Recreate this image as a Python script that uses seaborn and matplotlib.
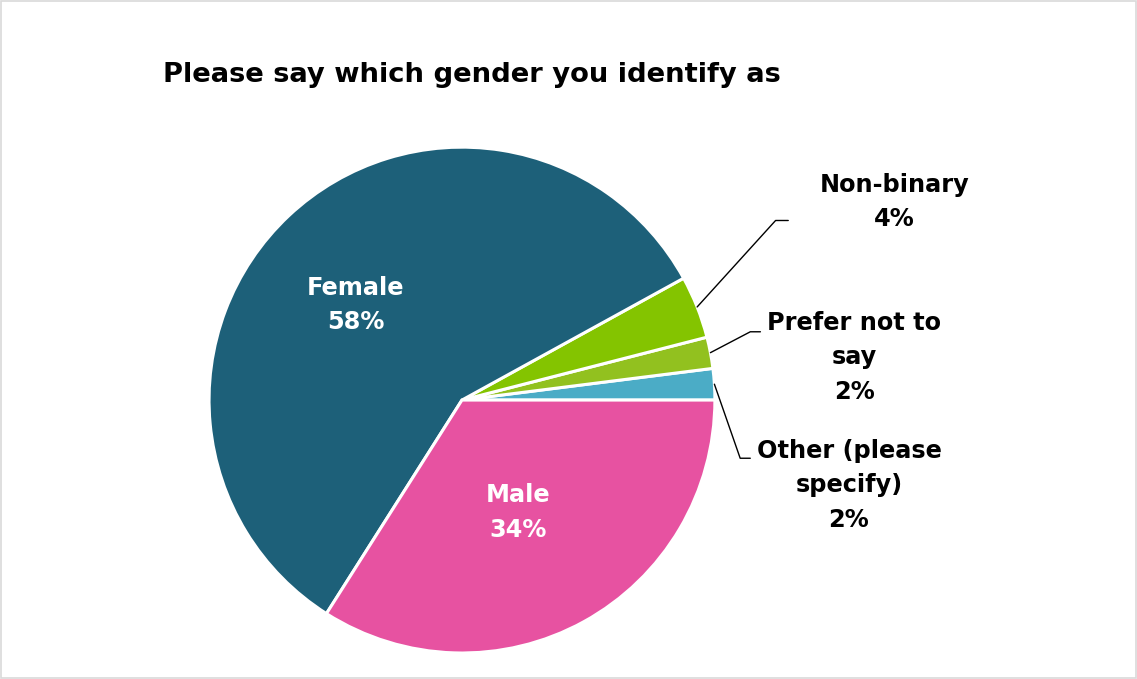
import numpy as np
import matplotlib
matplotlib.use("Agg")
import matplotlib.pyplot as plt
import seaborn as sns

# Survey responses (share of respondents, %), drawn counter-clockwise from 3 o'clock
categories = ["Other (please\nspecify)", "Prefer not to\nsay", "Non-binary", "Female", "Male"]
shares = [2, 2, 4, 58, 34]
colors = ["#4bacc6", "#92c11f", "#84c400", "#1d6079", "#e752a1"]
title = "Please say which gender you identify as"

sns.set_theme(style="white")
plt.rcParams["font.family"] = ["DejaVu Sans"]

fig = plt.figure(figsize=(11.37, 6.79), dpi=100)
fig.patch.set_facecolor("white")

ax = fig.add_axes([0.1838, 0.0383, 0.445, 0.745])
wedges, _ = ax.pie(
    shares,
    colors=colors,
    startangle=0,
    counterclock=True,
    radius=1.0,
    wedgeprops=dict(edgecolor="white", linewidth=2.2),
)
ax.set_xlim(-1, 1)
ax.set_ylim(-1, 1)
ax.set_aspect("equal")
ax.axis("off")

LABEL_SIZE = 17.3
LINE_SPACING = 1.55

def pct(v):
    return f"{v}%"

# Inside labels for the two large slices
inside = {3: (-0.42, 0.375), 4: (0.22, -0.445)}
for i, (x, y) in inside.items():
    ax.text(x, y, f"{categories[i]}\n{pct(shares[i])}", ha="center", va="center",
            color="white", fontsize=LABEL_SIZE, fontweight="bold",
            linespacing=LINE_SPACING)

# Outside labels with elbow leader lines for the small slices
outside = {
    2: dict(text=(1.71, 0.783), elbow=(1.24, 0.71), end=(1.29, 0.71)),
    1: dict(text=(1.55, 0.170), elbow=(1.14, 0.27), end=(1.18, 0.27)),
    0: dict(text=(1.53, -0.336), elbow=(1.10, -0.23), end=(1.14, -0.23)),
}
cum = np.cumsum([0] + shares)
for i, spec in outside.items():
    mid = np.deg2rad((cum[i] + cum[i + 1]) / 2 / sum(shares) * 360)
    x0, y0 = np.cos(mid), np.sin(mid)
    ex, ey = spec["elbow"]
    hx, _ = spec["end"]
    ax.plot([x0, ex, hx], [y0, ey, ey], color="black", lw=1.0, clip_on=False)
    ax.text(spec["text"][0], spec["text"][1], f"{categories[i]}\n{pct(shares[i])}",
            ha="center", va="center", color="black", fontsize=LABEL_SIZE,
            fontweight="bold", linespacing=LINE_SPACING, clip_on=False)

fig.text(163 / 1137, 1 - 75 / 679, title, ha="left", va="center",
         fontsize=19.7, fontweight="bold", color="black")

# Light frame around the chart area
frame = plt.Rectangle((0.001, 0.001), 0.998, 0.998, transform=fig.transFigure,
                      fill=False, edgecolor="#d9d9d9", linewidth=1.2)
fig.patches.append(frame)

fig.savefig("out.png", dpi=100, facecolor="white")
